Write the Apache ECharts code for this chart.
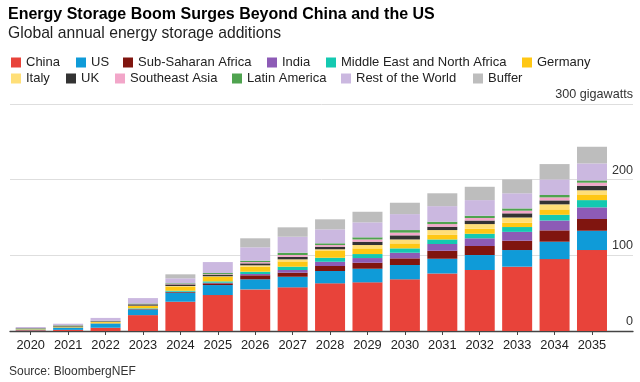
<!DOCTYPE html>
<html>
<head>
<meta charset="utf-8">
<script src="https://cdn.jsdelivr.net/npm/echarts@6/dist/echarts.min.js"></script>
<style>
html,body{margin:0;padding:0;background:#fff;}
#c{width:640px;height:382px;}
</style>
</head>
<body>
<div id="c"></div>
<script>
// ---- data ----
const years = ['2020','2021','2022','2023','2024','2025','2026','2027','2028','2029','2030','2031','2032','2033','2034','2035'];
const seriesNames = ['China','US','Sub-Saharan Africa','India','Middle East and North Africa','Germany','Italy','UK','Southeast Asia','Latin America','Rest of the World','Buffer'];
const china   = [1.0, 1.5, 4.3, 21, 38.7, 47.5, 55, 57.7, 63, 64.3, 68.3, 76, 80.6, 85, 95, 107];
const us      = [1.0, 3.0, 5.3, 7.5, 11.9, 13.2, 13.3, 14, 16.3, 18, 18.9, 19.5, 19.8, 22, 23, 25.5];
const ssa     = [0, 0.1, 0.2, 0.5, 0.9, 2.3, 5.3, 5.3, 6.6, 7.9, 8.8, 10.5, 11.9, 12.3, 15, 15.5];
const india   = [0, 0, 0.1, 0.3, 0.4, 0.8, 1.7, 3.6, 5.6, 6.2, 7.4, 9, 10.2, 11.7, 13, 15.4];
const mena    = [0, 0.1, 0.3, 0.7, 1.3, 1.8, 3.1, 4.4, 5.3, 5.3, 5.8, 6, 6, 6.4, 7.6, 9.6];
const germany = [0.6, 1.0, 1.5, 3.0, 5.4, 5.9, 6.6, 7, 8.9, 7.5, 6.6, 6, 6.5, 5.6, 7.1, 6.7];
const italy   = [0.2, 0.2, 0.3, 0.5, 0.8, 0.8, 1.8, 2.7, 2.3, 4.4, 5.2, 6.4, 6.3, 7, 6.7, 6.3];
const uk      = [0.6, 1.0, 0.8, 1.7, 2.2, 2.0, 2.6, 3.3, 3.4, 4.4, 5.4, 4.4, 4.7, 5.5, 5.2, 6];
const sea     = [0, 0, 0.2, 0.3, 0.5, 0.8, 1.7, 2.4, 2.2, 3, 3.6, 3.5, 3.3, 3.5, 4, 4];
const latam   = [0.3, 0.6, 0.5, 0.8, 0.9, 1.5, 1.8, 3, 2.3, 2.8, 3.4, 3.1, 3, 3, 3.1, 3];
const rest    = [1.6, 2.1, 3.8, 7.2, 6.6, 14.5, 17.7, 21.2, 18.4, 19.8, 21.1, 20.6, 20.7, 20, 20.7, 22.5];
const buffer  = [0, 0, 0, 0, 5.3, 0, 11.9, 12.4, 13.3, 14, 15, 17, 17.6, 18.4, 20.2, 22];
const yTicks = [0, 100, 200, 300];
const unitLabel = '300 gigawatts';

// ---- styles / layout ----
const seriesData = [china, us, ssa, india, mena, germany, italy, uk, sea, latam, rest, buffer];
const colors = ['#e8433a','#0f9bd8','#80150f','#8d5bb6','#14c9b1','#ffc714','#ffdf78','#333333','#f2a6c9','#4fa34f','#cbb8e0','#bdbdbd'];
const legendPos = [
  [11,56],[76,56],[123,56],[267,56],[326,56],[522,56],
  [11,72],[66,72],[115,72],[232,72],[341,72],[473,72]
];
const FONT = 'Liberation Sans, Arial, sans-serif';

const chart = echarts.init(document.getElementById('c'), null, {renderer:'canvas'});

const legends = seriesNames.map((n, i) => ({
  data: [n],
  left: legendPos[i][0],
  top: legendPos[i][1],
  padding: 0,
  itemWidth: 10,
  itemHeight: 10,
  icon: 'rect',
  selectedMode: false,
  textStyle: {fontFamily: FONT, fontSize: 13, color: '#222'}
}));

const series = seriesNames.map((n, i) => ({
  name: n,
  type: 'bar',
  stack: 'total',
  xAxisIndex: 0,
  yAxisIndex: 0,
  barWidth: 30,
  data: seriesData[i],
  itemStyle: {color: colors[i]},
  emphasis: {disabled: true},
  animation: false
}));

chart.setOption({
  animation: false,
  backgroundColor: '#fff',
  title: [
    {text: 'Energy Storage Boom Surges Beyond China and the US', left: 8, top: 7, padding: 0,
     textStyle: {fontFamily: FONT, fontSize: 16, fontWeight: 'bold', color: '#000'}},
    {text: 'Global annual energy storage additions', left: 8, top: 26, padding: 0,
     textStyle: {fontFamily: FONT, fontSize: 15.7, fontWeight: 'normal', color: '#222'}},
    {text: 'Source: BloombergNEF', left: 9, top: 366, padding: 0,
     textStyle: {fontFamily: FONT, fontSize: 12, fontWeight: 'normal', color: '#333'}}
  ],
  legend: legends,
  grid: [
    {left: 12, right: 29.3, top: 104, bottom: 51},
    {left: 10, right: 7, top: 104, bottom: 51}
  ],
  xAxis: [
    {type: 'category', gridIndex: 0, data: years,
     axisLine: {show: false},
     axisTick: {show: true, alignWithLabel: true, length: 4, lineStyle: {color: '#444', width: 1}},
     axisLabel: {fontFamily: FONT, fontSize: 12.8, color: '#222', margin: 8}},
    {type: 'value', gridIndex: 1, min: 0, max: 1,
     axisLine: {show: true, lineStyle: {color: '#444', width: 1.3}},
     axisTick: {show: false}, axisLabel: {show: false}, splitLine: {show: false}}
  ],
  yAxis: [
    {type: 'value', gridIndex: 0, min: 0, max: 300, interval: 100, show: false},
    {type: 'value', gridIndex: 1, min: 0, max: 300, interval: 100, position: 'right',
     axisLine: {show: false}, axisTick: {show: false},
     splitLine: {show: true, lineStyle: {color: '#dedede', width: 1}},
     axisLabel: {inside: true, align: 'right', verticalAlign: 'bottom', margin: 0,
       padding: [0, 0, 3, 0], fontFamily: FONT, fontSize: 12.6, color: '#333',
       formatter: v => (v === yTicks[yTicks.length - 1] ? unitLabel : String(v))}}
  ],
  series: series
});
</script>
</body>
</html>
